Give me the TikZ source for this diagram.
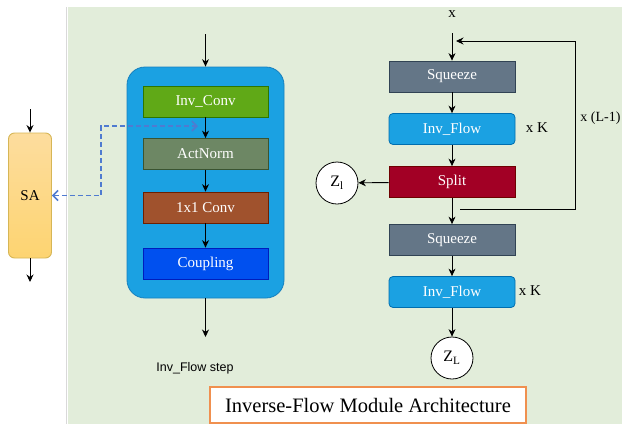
\documentclass[tikz,border=0pt]{standalone}
\usepackage{fontspec}
\setmainfont{Liberation Serif}
\newfontfamily\helv{Liberation Sans}
\usetikzlibrary{arrows.meta,positioning}

\definecolor{bggreen}{HTML}{E2EDDA}
\definecolor{saborder}{HTML}{D6B656}
\definecolor{satop}{HTML}{FDDD9E}
\definecolor{sabot}{HTML}{FDD471}
\definecolor{stepfill}{HTML}{1BA1E2}
\definecolor{stepdraw}{HTML}{1680BE}
\definecolor{convg}{HTML}{60A917}
\definecolor{convd}{HTML}{2D7600}
\definecolor{actg}{HTML}{6D8764}
\definecolor{actd}{HTML}{3A5431}
\definecolor{onebr}{HTML}{A0522D}
\definecolor{onebd}{HTML}{6D1F00}
\definecolor{coupb}{HTML}{0050EF}
\definecolor{coupd}{HTML}{001DBC}
\definecolor{sqfill}{HTML}{647687}
\definecolor{sqdraw}{HTML}{314354}
\definecolor{flowdraw}{HTML}{006EAF}
\definecolor{splitfill}{HTML}{A20025}
\definecolor{splitdraw}{HTML}{6F0000}
\definecolor{dashblue}{HTML}{4F7BD0}
\definecolor{titleorange}{HTML}{F0904F}

\tikzset{
  blk/.style={draw, line width=0.8pt, minimum width=125pt, minimum height=31pt,
    inner sep=0pt, text=white, font=\fontsize{15}{17}\selectfont},
  sabox/.style={draw=saborder, top color=satop, bottom color=sabot, rounded corners=6pt,
    minimum width=43pt, minimum height=125pt, inner sep=0pt},
  stepframe/.style={draw=stepdraw, fill=stepfill, line width=0.8pt, rounded corners=18pt,
    minimum width=157pt, minimum height=231pt},
  zcirc/.style={circle, draw, fill=white, line width=0.8pt, minimum size=42pt, inner sep=0pt,
    font=\fontsize{16}{18}\selectfont},
  dashlink/.style={dashblue, dash pattern=on 5pt off 3pt, line width=1.6pt,
    {Straight Barb[length=5pt,width=10pt]}-{Straight Barb[length=5pt,width=10pt]}},
  titlebox/.style={draw=titleorange, fill=white, line width=1.2pt, minimum width=316pt,
    minimum height=36pt, font=\fontsize{20.5}{22}\selectfont}
}

\begin{document}
\begin{tikzpicture}[x=1pt, y=-1pt, font=\fontsize{15}{17}\selectfont,
    >={Stealth[length=7.5pt,width=7pt]}, line width=0.9pt]
  \useasboundingbox (0,0) rectangle (622,424);
  \fill[bggreen] (68,7) rectangle (622,424);
  \draw[black!15, line width=1pt] (66,7) -- (66,424);

  % SA block
  \node[sabox] (sa) at (30,195.5) {SA};
  \coordinate (sain) at (30,109);
  \coordinate (saout) at (30,282);
  \draw[->] (sain) -- (sa);
  \draw[->] (sa) -- (saout);

  % one flow step
  \node[stepframe] (frame) at (205.5,182.5) {};
  \foreach \name/\ypos/\fillc/\drawc/\txt in {conv/101.5/convg/convd/Inv\_Conv,
      act/154/actg/actd/ActNorm, onebyone/207.5/onebr/onebd/1x1 Conv,
      coup/263.5/coupb/coupd/Coupling} {
    \node[blk, fill=\fillc, draw=\drawc] (\name) at (205.5,\ypos) {\txt};
  }
  \foreach \a/\b in {conv/act, act/onebyone, onebyone/coup} {
    \draw[->] (\a) -- (\b);
  }
  \coordinate (stepin) at (205.5,34);
  \coordinate (stepout) at (205.5,337);
  \draw[->] (stepin) -- (frame);
  \draw[->] (frame) -- (stepout);
  \node[font=\helv\fontsize{12.5}{14}\selectfont] (steplbl) at (195,368) {Inv\_Flow step};

  % SA link
  \coordinate (tap) at (198,126);
  \draw[dashlink] (sa.east) -- ++(49,0) |- (tap);

  % multi-scale module
  \node (xin) at (452,14) {x};
  \coordinate (top) at (452,33);
  \node[blk, fill=sqfill, draw=sqdraw, minimum width=126pt] (sq1) at (452,76.5) {Squeeze};
  \node[blk, fill=stepfill, draw=flowdraw, rounded corners=4pt, minimum width=126pt] (fl1) at (452,129) {Inv\_Flow};
  \node[blk, fill=splitfill, draw=splitdraw, minimum width=126pt] (split) at (452,182) {Split};
  \node[blk, fill=sqfill, draw=sqdraw, minimum width=126pt] (sq2) at (452,240) {Squeeze};
  \node[blk, fill=stepfill, draw=flowdraw, rounded corners=4pt, minimum width=126pt] (fl2) at (452,292) {Inv\_Flow};
  \node[zcirc] (zl) at (337,183) {Z\textsubscript{l}};
  \node[zcirc] (zL) at (452,358) {Z\textsubscript{L}};
  \node (k1) at (537,128) {x K};
  \node (k2) at (530,291) {x K};

  \draw[->] (top) -- (sq1);
  \foreach \a/\b in {sq1/fl1, fl1/split, split/sq2, sq2/fl2, fl2/zL} {
    \draw[->] (\a) -- (\b);
  }
  \draw[->] (split) -- (zl);

  % repeat loop
  \coordinate (fbstart) at (460,209);
  \coordinate (fbend) at (456,41);
  \draw[->] (fbstart) -- ++(115,0) |- (fbend);
  \node[anchor=west, inner sep=1pt, font=\fontsize{14}{16}\selectfont] (loops) at (579,118) {x (L-1)};

  \node[titlebox] (title) at (368,405) {Inverse-Flow Module Architecture};
\end{tikzpicture}
\end{document}
